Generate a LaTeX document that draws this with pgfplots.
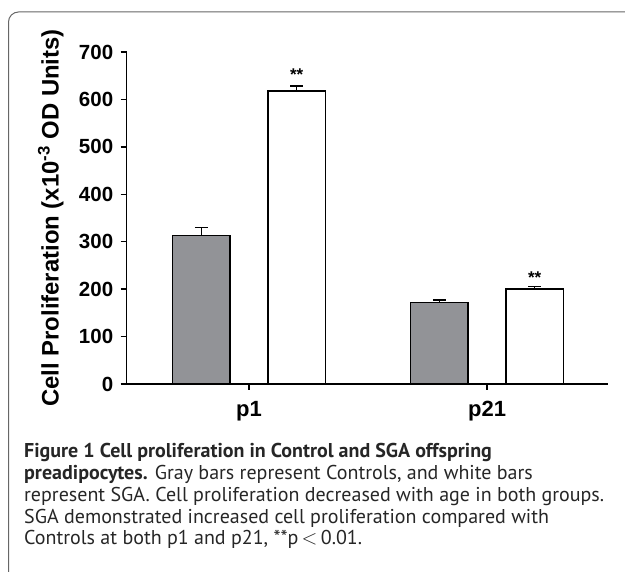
\documentclass[border=0pt]{standalone}
\usepackage{pgfplots}
\pgfplotsset{compat=1.18}
\usepackage{fontspec}
\setmainfont{Liberation Sans}
\newfontfamily\capfont{PT Sans}
\definecolor{barGray}{RGB}{146,147,151}
\newlength\capw
\newlength\labw
\begin{document}
\settowidth\capw{\capfont\fontsize{10}{10}\selectfont represent SGA. Cell proliferation decreased with age in both groups.}%
\pgfmathsetmacro\capsize{10*580/\capw}%
\settowidth\labw{\bfseries\fontsize{10}{10}\selectfont Cell Proliferation (x10\textsuperscript{-3} OD Units)}%
\pgfmathsetmacro\labsize{10*378/\labw}%
\begin{tikzpicture}
\path[use as bounding box] (0pt,0pt) rectangle (625pt,572pt);
\draw[line width=1pt, black!60, rounded corners=10pt] (8.5pt,-10pt) -- (8.5pt,560pt) -- (650pt,560pt);
\begin{axis}[
  at={(126.7pt,188pt)}, anchor=south west,
  scale only axis, width=480.8pt, height=332pt,
  xmin=-0.514, xmax=1.506, ymin=0, ymax=700,
  axis lines=left,
  axis line style={line width=1.6pt, -},
  ytick={0,100,...,700},
  xtick={0,1}, xticklabels={p1,p21},
  tick style={line width=1.3pt, black},
  major tick length=6pt,
  tick align=outside,
  /pgf/number format/assume math mode=true,
  yticklabel style={font=\bfseries\fontsize{20.5}{20.5}\selectfont, xshift=-4pt},
  xticklabel style={font=\bfseries\fontsize{22}{22}\selectfont, yshift=-8pt},
  ylabel={Cell Proliferation (x10\textsuperscript{-3} OD Units)},
  ylabel style={font=\bfseries\fontsize{\labsize}{\labsize}\selectfont, at={(axis description cs:-0.158,0.5)}, anchor=center},
  clip=false,
]
\addplot[ybar, bar width=0.242, bar shift=0pt, fill=barGray, draw=black, line width=1.6pt,
  error bars/.cd, y dir=plus, y explicit,
  error bar style={line width=1.6pt, black},
  error mark options={rotate=90, mark size=6.5pt, line width=1.6pt, black}]
  coordinates {(-0.2,312.8) +- (0,17) (0.8,171.8) +- (0,5)};
\addplot[ybar, bar width=0.242, bar shift=0pt, fill=white, draw=black, line width=1.6pt,
  error bars/.cd, y dir=plus, y explicit,
  error bar style={line width=1.6pt, black},
  error mark options={rotate=90, mark size=6.5pt, line width=1.6pt, black}]
  coordinates {(0.2,618) +- (0,10) (1.2,200.6) +- (0,5)};
\node[font=\bfseries\fontsize{17}{17}\selectfont] at (axis cs:0.2,652) {**};
\node[font=\bfseries\fontsize{17}{17}\selectfont] at (axis cs:1.2,224) {**};
\end{axis}
\begin{scope}[every node/.style={anchor=base west, inner sep=0pt, font=\capfont\fontsize{\capsize}{\capsize}\selectfont, text=black!85}]
\node at (24pt,114pt) {\textbf{Figure 1 Cell proliferation in Control and SGA offspring}};
\node at (24pt,92pt) {\textbf{preadipocytes.} Gray bars represent Controls, and white bars};
\node at (24pt,70pt) {represent SGA. Cell proliferation decreased with age in both groups.};
\node at (24pt,48.5pt) {SGA demonstrated increased cell proliferation compared with};
\node at (24pt,27pt) {Controls at both p1 and p21, **p\,$<$\,0.01.};
\end{scope}
\end{tikzpicture}
\end{document}
